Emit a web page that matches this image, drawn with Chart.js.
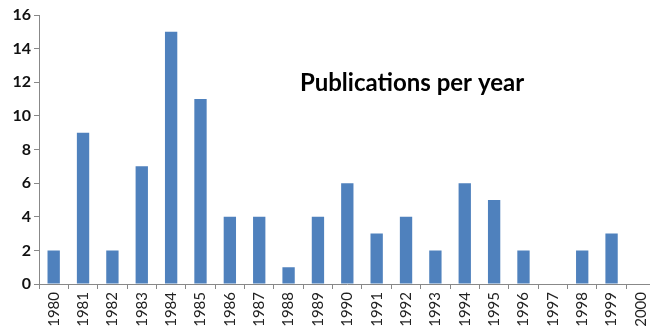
<!DOCTYPE html>
<html>
<head>
<meta charset="utf-8">
<script src="https://cdn.jsdelivr.net/npm/chart.js@4/dist/chart.umd.min.js"></script>
<style>
  html, body { margin: 0; padding: 0; background: #fff; overflow: hidden; }
  .wrap { width: 662px; height: 333px; }
</style>
</head>
<body>
<div class="wrap"><canvas id="chart" width="662" height="333"></canvas></div>
<script>
// data
const years = ['1980', '1981', '1982', '1983', '1984', '1985', '1986', '1987', '1988', '1989', '1990',
  '1991', '1992', '1993', '1994', '1995', '1996', '1997', '1998', '1999', '2000'];
const publications = [2, 9, 2, 7, 15, 11, 4, 4, 1, 4, 6, 3, 4, 2, 6, 5, 2, 0, 2, 3, 0];
const yTicks = [0, 2, 4, 6, 8, 10, 12, 14, 16];
const chartTitle = 'Publications per year';

// title sits inside the plot area
const titleInside = {
  id: 'titleInside',
  afterDraw(chart) {
    const ctx = chart.ctx;
    ctx.save();
    ctx.font = 'bold 24px Lato, sans-serif';
    ctx.fillStyle = '#000';
    ctx.textAlign = 'center';
    ctx.textBaseline = 'middle';
    ctx.fillText(chartTitle, 412, 83);
    ctx.restore();
  }
};

new Chart(document.getElementById('chart'), {
  type: 'bar',
  data: {
    labels: years,
    datasets: [{
      label: chartTitle,
      data: publications,
      backgroundColor: '#4F81BD',
      barPercentage: 0.42,
      categoryPercentage: 1
    }]
  },
  options: {
    responsive: false,
    animation: false,
    layout: { padding: { top: 15, right: 3, left: 0, bottom: 0 } },
    plugins: { legend: { display: false }, tooltip: { enabled: false } },
    scales: {
      x: {
        offset: true,
        grid: { offset: true, drawOnChartArea: false, color: '#888', tickLength: 5 },
        border: { color: '#888' },
        ticks: {
          color: '#222',
          font: { family: 'Lato', size: 15 },
          maxRotation: 90, minRotation: 90, padding: 3
        },
        afterFit(scale) { scale.height = 49; }
      },
      y: {
        min: 0, max: 16,
        afterBuildTicks(scale) { scale.ticks = yTicks.map(v => ({ value: v })); },
        grid: { drawOnChartArea: false, color: '#888', tickLength: 5 },
        border: { color: '#888' },
        ticks: {
          color: '#111',
          font: { family: 'Lato', size: 16, weight: 'bold' },
          padding: 3
        },
        afterFit(scale) { scale.width = 39; }
      }
    }
  },
  plugins: [titleInside]
});
</script>
</body>
</html>
